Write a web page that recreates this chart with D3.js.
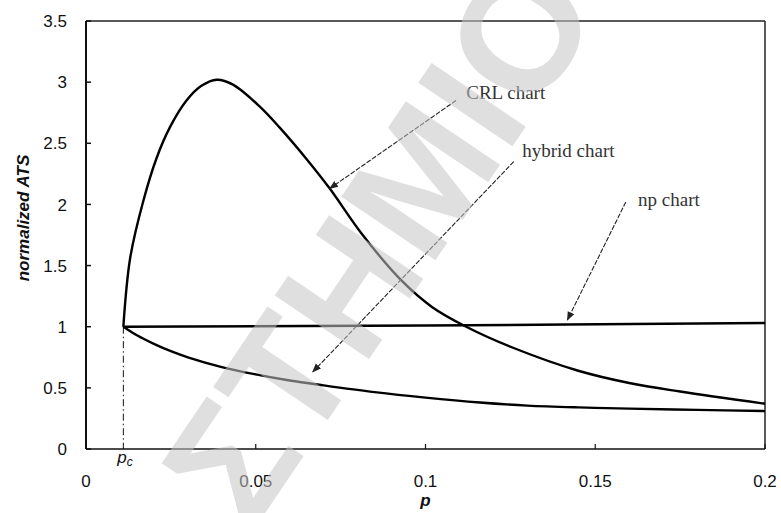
<!DOCTYPE html>
<html>
<head>
<meta charset="utf-8">
<script src="https://cdn.jsdelivr.net/npm/d3@7"></script>
<style>
  html, body { margin: 0; padding: 0; background: #fff; }
  svg { display: block; }
</style>
</head>
<body>
<div id="chart"></div>
<script>
// データ
var P_C = 0.011;
var CRL_P = [0.011, 0.013, 0.0168, 0.0208, 0.0247, 0.0296, 0.034, 0.0385, 0.0433, 0.0512,
             0.057, 0.065, 0.0718, 0.0815, 0.0932, 0.102, 0.112, 0.1256, 0.145, 0.16, 0.175, 0.2];
var CRL_ATS = [1.0, 1.56, 2.02, 2.38, 2.63, 2.85, 2.97, 3.02, 2.98, 2.80,
               2.63, 2.37, 2.13, 1.75, 1.37, 1.16, 1.0, 0.83, 0.64, 0.54, 0.47, 0.37];
var HYB_P = [0.011, 0.015, 0.02, 0.025, 0.03, 0.04, 0.05, 0.06, 0.07, 0.085, 0.1, 0.116,
             0.13, 0.145, 0.16, 0.18, 0.2];
var HYB_ATS = [1.0, 0.93, 0.86, 0.80, 0.75, 0.67, 0.61, 0.56, 0.52, 0.465, 0.42, 0.38,
               0.355, 0.34, 0.33, 0.32, 0.31];
var NP_P = [0.011, 0.1, 0.2];
var NP_ATS = [1.0, 1.01, 1.03];
var X_TICKS = [0, 0.05, 0.1, 0.15, 0.2];
var X_LABELS = ['0', '0.05', '0.1', '0.15', '0.2'];
var Y_TICKS = [0, 0.5, 1, 1.5, 2, 2.5, 3, 3.5];
var Y_LABELS = ['0', '0.5', '1', '1.5', '2', '2.5', '3', '3.5'];
// 注記: ラベル、文字位置、矢印の始点と先（データ座標）
var NOTE_LABELS = ['CRL chart', 'hybrid chart', 'np chart'];
var NOTE_TEXT_P = [0.112, 0.1285, 0.1626];
var NOTE_TEXT_ATS = [2.86, 2.39, 1.99];
var NOTE_FROM_P = [0.109, 0.126, 0.159];
var NOTE_FROM_ATS = [2.85, 2.35, 2.02];
var NOTE_TIP_P = [0.0718, 0.0668, 0.1418];
var NOTE_TIP_ATS = [2.13, 0.63, 1.055];

var W = 781, H = 513;
var svg = d3.select('#chart').append('svg').attr('width', W).attr('height', H);

var x = d3.scaleLinear().domain([0, 0.2]).range([86, 765]);
var y = d3.scaleLinear().domain([0, 3.5]).range([449, 21]);

var SANS = '"Liberation Sans", Arial, sans-serif';
var SERIF = '"Liberation Serif", "Times New Roman", serif';

svg.append('defs').append('marker')
    .attr('id', 'ah').attr('viewBox', '0 0 10 10').attr('refX', 9).attr('refY', 5)
    .attr('markerWidth', 9).attr('markerHeight', 9).attr('orient', 'auto')
    .attr('markerUnits', 'userSpaceOnUse')
  .append('path').attr('d', 'M0,1 L10,5 L0,9 Z').attr('fill', '#222');

// 枠と目盛
var g = svg.append('g');
g.append('line').attr('x1', x(0)).attr('x2', x(0.2)).attr('y1', y(3.5)).attr('y2', y(3.5))
    .attr('stroke', '#222').attr('stroke-width', 1.5);
g.append('line').attr('x1', x(0.2)).attr('x2', x(0.2)).attr('y1', y(3.5)).attr('y2', y(0))
    .attr('stroke', '#222').attr('stroke-width', 1.5);
g.append('line').attr('x1', x(0)).attr('x2', x(0.2)).attr('y1', y(0)).attr('y2', y(0))
    .attr('stroke', '#111').attr('stroke-width', 1.6);
g.append('line').attr('x1', x(0)).attr('x2', x(0)).attr('y1', y(3.5)).attr('y2', y(0))
    .attr('stroke', '#111').attr('stroke-width', 2);

Y_TICKS.forEach(function (t, i) {
    g.append('line').attr('x1', x(0)).attr('x2', x(0) + 5).attr('y1', y(t)).attr('y2', y(t))
        .attr('stroke', '#111').attr('stroke-width', 1.5);
    g.append('text').attr('x', 67).attr('y', y(t)).attr('dy', '0.36em')
        .attr('text-anchor', 'end').attr('font-family', SANS).attr('font-size', 17)
        .attr('fill', '#111').text(Y_LABELS[i]);
});
X_TICKS.forEach(function (t, i) {
    g.append('line').attr('x1', x(t)).attr('x2', x(t)).attr('y1', y(0)).attr('y2', y(0) - 5)
        .attr('stroke', '#111').attr('stroke-width', 1.2);
    g.append('text').attr('x', x(t)).attr('y', 487)
        .attr('text-anchor', 'middle').attr('font-family', SANS).attr('font-size', 17)
        .attr('fill', '#111').text(X_LABELS[i]);
});

// 軸ラベル
svg.append('text').attr('transform', 'translate(29,218) rotate(-90)')
    .attr('text-anchor', 'middle').attr('font-family', SANS).attr('font-size', 17)
    .attr('font-weight', 'bold').attr('font-style', 'italic').attr('fill', '#111')
    .text('normalized ATS');
svg.append('text').attr('x', (x(0) + x(0.2)) / 2).attr('y', 506)
    .attr('text-anchor', 'middle').attr('font-family', SANS).attr('font-size', 17)
    .attr('font-weight', 'bold').attr('font-style', 'italic').attr('fill', '#111')
    .text('p');

// p_c の補助線
svg.append('line').attr('x1', x(P_C)).attr('x2', x(P_C)).attr('y1', y(1)).attr('y2', y(0))
    .attr('stroke', '#111').attr('stroke-width', 1).attr('stroke-dasharray', '7,3,1.5,3');
var pc = svg.append('text').attr('x', x(P_C) - 6).attr('y', 463)
    .attr('font-family', SANS).attr('font-size', 17).attr('font-style', 'italic').attr('fill', '#111');
pc.append('tspan').text('p');
pc.append('tspan').attr('font-size', 12).attr('dy', 3).text('c');

// 曲線
var line = d3.line()
    .x(function (d) { return x(d[0]); })
    .y(function (d) { return y(d[1]); })
    .curve(d3.curveCatmullRom.alpha(0.5));
[[CRL_P, CRL_ATS], [HYB_P, HYB_ATS], [NP_P, NP_ATS]].forEach(function (s) {
    svg.append('path').datum(d3.zip(s[0], s[1])).attr('d', line)
        .attr('fill', 'none').attr('stroke', '#000').attr('stroke-width', 2.4);
});

// 注記と矢印
NOTE_LABELS.forEach(function (lab, i) {
    svg.append('line')
        .attr('x1', x(NOTE_FROM_P[i])).attr('y1', y(NOTE_FROM_ATS[i]))
        .attr('x2', x(NOTE_TIP_P[i])).attr('y2', y(NOTE_TIP_ATS[i]))
        .attr('stroke', '#222').attr('stroke-width', 1.1).attr('stroke-dasharray', '5,1.5')
        .attr('marker-end', 'url(#ah)');
    svg.append('text').attr('x', x(NOTE_TEXT_P[i])).attr('y', y(NOTE_TEXT_ATS[i]))
        .attr('font-family', SERIF).attr('font-size', 19).attr('fill', '#333')
        .text(lab);
});

// 透かし
svg.append('text').attr('transform', 'translate(251,534) rotate(-56)')
    .attr('font-family', SANS).attr('font-size', 165).attr('font-weight', 'bold')
    .attr('fill', '#c4c4c4').attr('fill-opacity', 0.55)
    .text('ΣΤΗΜΙΟ');
</script>
</body>
</html>
